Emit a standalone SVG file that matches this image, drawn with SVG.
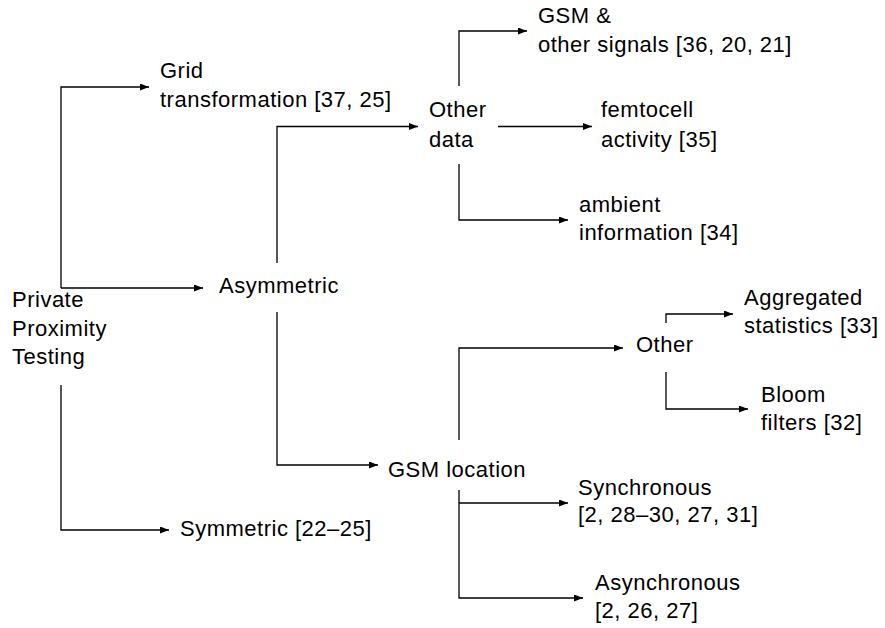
<svg xmlns="http://www.w3.org/2000/svg" width="885" height="628" viewBox="0 0 885 628">
<defs>
<marker id="ah" markerUnits="userSpaceOnUse" markerWidth="10" markerHeight="8" refX="9" refY="3.5" orient="auto">
<path d="M0,0 L9,3.5 L0,7 z" fill="#000"/>
</marker>
<style>
text{font-family:"Liberation Sans",Arial,sans-serif;font-size:22px;letter-spacing:0.5px;fill:#000}
.c path{fill:none;stroke:#000;stroke-width:1.3;marker-end:url(#ah)}
</style>
</defs>
<rect width="885" height="628" fill="#fff"/>
<g class="c" id="connectors">
<path d="M61,288 V87 H149"/>
<path d="M61,288 H203"/>
<path d="M61,385 V530 H169"/>
<path d="M277,263 V126.5 H418"/>
<path d="M277,312 V465 H378"/>
<path d="M459,86 V31 H527"/>
<path d="M498,126.5 H592"/>
<path d="M459,164 V220 H568"/>
<path d="M459,440 V348 H623"/>
<path d="M666,323 V314 H733"/>
<path d="M666,372 V409 H748"/>
<path d="M459,490 V598 H583"/>
<path d="M459,503 H568"/>
</g>
<g id="ppt"><text x="12" y="306.7">Private</text><text x="12" y="335.5">Proximity</text><text x="12" y="364">Testing</text></g>
<g id="grid"><text x="160" y="77.7">Grid</text><text x="160" y="106.7">transformation [37, 25]</text></g>
<g id="asym"><text x="219" y="293.3">Asymmetric</text></g>
<g id="sym"><text x="180" y="535.7">Symmetric [22–25]</text></g>
<g id="otherdata"><text x="429" y="117.3">Other</text><text x="429" y="146.7">data</text></g>
<g id="gsmsig"><text x="538" y="22.7">GSM &amp;</text><text x="538" y="51.7">other signals [36, 20, 21]</text></g>
<g id="femto"><text x="601" y="117.3">femtocell</text><text x="601" y="146.7">activity [35]</text></g>
<g id="ambient"><text x="579" y="211.7">ambient</text><text x="579" y="240">information [34]</text></g>
<g id="gsmloc"><text x="388" y="476.7">GSM location</text></g>
<g id="other"><text x="636" y="351.7">Other</text></g>
<g id="agg"><text x="744" y="305">Aggregated</text><text x="744" y="333.3">statistics [33]</text></g>
<g id="bloom"><text x="761" y="401.7">Bloom</text><text x="761" y="430">filters [32]</text></g>
<g id="sync"><text x="578" y="495">Synchronous</text><text x="578" y="521.7">[2, 28–30, 27, 31]</text></g>
<g id="async"><text x="595" y="590">Asynchronous</text><text x="595" y="618">[2, 26, 27]</text></g>
</svg>
